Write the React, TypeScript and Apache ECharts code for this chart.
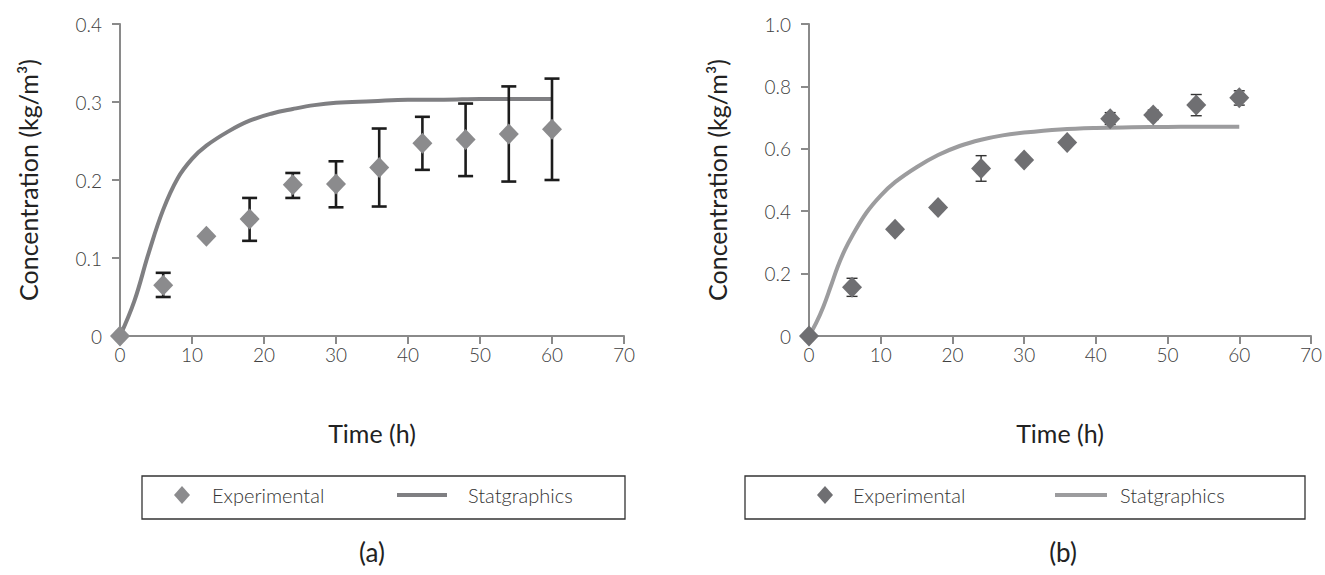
import React, { useEffect, useRef } from "react";
import * as echarts from "echarts";

const times = [0, 6, 12, 18, 24, 30, 36, 42, 48, 54, 60];

const expA = [0, 0.065, 0.128, 0.15, 0.194, 0.195, 0.216, 0.247, 0.252, 0.259, 0.265];
const errLowA = [null, 0.05, null, 0.122, 0.177, 0.165, 0.166, 0.213, 0.205, 0.198, 0.2];
const errHighA = [null, 0.081, null, 0.177, 0.209, 0.224, 0.266, 0.281, 0.298, 0.32, 0.33];

const expB = [0, 0.156, 0.342, 0.412, 0.537, 0.564, 0.62, 0.696, 0.708, 0.74, 0.764];
const errLowB = [null, 0.127, null, null, 0.496, null, null, 0.678, 0.694, 0.706, 0.74];
const errHighB = [null, 0.185, null, null, 0.578, null, null, 0.716, 0.724, 0.774, 0.786];

const modelTimesA = [0, 2, 4, 6, 8, 10, 12, 15, 18, 21, 24, 27, 30, 35, 40, 45, 50, 55, 60];
const modelA = [0, 0.045, 0.107, 0.162, 0.202, 0.227, 0.244, 0.262, 0.276, 0.285, 0.291, 0.296, 0.299, 0.301, 0.303, 0.303, 0.304, 0.304, 0.304];

const modelTimesB = [0, 1, 2, 3, 4, 5, 6, 8, 10, 12, 15, 18, 21, 24, 27, 30, 35, 40, 45, 50, 55, 60];
const modelB = [0, 0.042, 0.094, 0.157, 0.222, 0.276, 0.32, 0.395, 0.45, 0.493, 0.541, 0.58, 0.609, 0.629, 0.643, 0.652, 0.662, 0.667, 0.669, 0.67, 0.671, 0.671];

const FONT = "Lato";

function pairs(xs: number[], ys: number[]) {
  return xs.map((x, i) => [x, ys[i]]);
}
function errData(lo: (number | null)[], hi: (number | null)[]) {
  const out: number[][] = [];
  times.forEach((t, i) => {
    if (lo[i] != null && hi[i] != null) out.push([t, lo[i] as number, hi[i] as number]);
  });
  return out;
}

function errRender(color: string, lw: number, capW: number) {
  return (params: any, api: any) => {
    const x = api.value(0);
    const pLo = api.coord([x, api.value(1)]);
    const pHi = api.coord([x, api.value(2)]);
    const w = capW / 2;
    const style = { stroke: color, lineWidth: lw };
    return {
      type: "group",
      children: [
        { type: "line", shape: { x1: pLo[0], y1: pLo[1], x2: pHi[0], y2: pHi[1] }, style },
        { type: "line", shape: { x1: pLo[0] - w, y1: pLo[1], x2: pLo[0] + w, y2: pLo[1] }, style },
        { type: "line", shape: { x1: pHi[0] - w, y1: pHi[1], x2: pHi[0] + w, y2: pHi[1] }, style },
      ],
    };
  };
}

const axisColor = "#8a8a8a";
const nameStyle = { fontFamily: FONT, fontSize: 25, fontWeight: 400, color: "#222" };
const tickStyle = { fontFamily: FONT, fontWeight: 300, fontSize: 19, color: "#404040" };

function xAxisCfg(gridIndex: number) {
  return {
    type: "value",
    gridIndex,
    min: 0,
    max: 70,
    interval: 10,
    name: "Time (h)",
    nameLocation: "middle",
    nameGap: 84,
    nameTextStyle: nameStyle,
    axisLine: { show: true, lineStyle: { color: axisColor, width: 2 } },
    axisTick: { show: true, length: 8, lineStyle: { color: axisColor, width: 2 } },
    axisLabel: { ...tickStyle, margin: 9 },
    splitLine: { show: false },
  };
}

function yAxisCfg(gridIndex: number, max: number, interval: number) {
  return {
    type: "value",
    gridIndex,
    min: 0,
    max,
    interval,
    name: "Concentration (kg/m³)",
    nameLocation: "middle",
    nameGap: 80,
    nameTextStyle: nameStyle,
    axisLine: { show: true, lineStyle: { color: axisColor, width: 2 } },
    axisTick: { show: true, length: 8, lineStyle: { color: axisColor, width: 2 } },
    axisLabel: {
      ...tickStyle,
      margin: 18,
      formatter: (v: number) => (v === 0 ? "0" : v.toFixed(1)),
    },
    splitLine: { show: false },
  };
}

const legendText = { fontFamily: FONT, fontWeight: 300, fontSize: 20, color: "#333" };

export default function App() {
  const ref = useRef<HTMLDivElement>(null);
  useEffect(() => {
    if (!ref.current) return;
    const chart = echarts.init(ref.current, null, { renderer: "svg" });
    const colA = "#8b8b8d";
    const colB = "#6f6f72";
    const lineA = "#7f7f82";
    const lineB = "#9c9c9e";
    const panelTitle = { fontFamily: FONT, fontSize: 26, fontWeight: 400, color: "#222" };
    chart.setOption({
      animation: false,
      backgroundColor: "#fff",
      grid: [
        { left: 120, top: 24, width: 504, height: 312 },
        { left: 809, top: 24, width: 508, height: 312 },
      ],
      xAxis: [xAxisCfg(0), xAxisCfg(1)],
      yAxis: [yAxisCfg(0, 0.4, 0.1), yAxisCfg(1, 1.0, 0.2)],
      title: [
        { text: "(a)", left: 372, top: 539, textAlign: "center", padding: 0, textStyle: panelTitle },
        { text: "(b)", left: 1063, top: 539, textAlign: "center", padding: 0, textStyle: panelTitle },
      ],
      graphic: [
        { type: "rect", shape: { x: 142, y: 476, width: 483, height: 43 }, style: { fill: "#fff", stroke: "#333", lineWidth: 1.3 }, z: -1 },
        { type: "rect", shape: { x: 745, y: 476, width: 560, height: 43 }, style: { fill: "#fff", stroke: "#333", lineWidth: 1.3 }, z: -1 },
      ],
      legend: [
        {
          left: 169, top: 480, selectedMode: false, icon: "diamond", itemWidth: 16, itemHeight: 18,
          data: [{ name: "Experimental", itemStyle: { color: colA } }],
          textStyle: { ...legendText, padding: [0, 0, 0, 17] },
        },
        {
          left: 392, top: 480, selectedMode: false, icon: "rect", itemWidth: 50, itemHeight: 4,
          data: [{ name: "Statgraphics", itemStyle: { color: lineA } }],
          textStyle: { ...legendText, padding: [0, 0, 0, 16] },
        },
        {
          left: 812, top: 480, selectedMode: false, icon: "diamond", itemWidth: 16, itemHeight: 18,
          data: [{ name: "Experimental", itemStyle: { color: colB } }],
          textStyle: { ...legendText, padding: [0, 0, 0, 15] },
        },
        {
          left: 1050, top: 480, selectedMode: false, icon: "rect", itemWidth: 52, itemHeight: 4,
          data: [{ name: "Statgraphics", itemStyle: { color: lineB } }],
          textStyle: { ...legendText, padding: [0, 0, 0, 8] },
        },
      ],
      series: [
        {
          name: "Statgraphics", type: "line", xAxisIndex: 0, yAxisIndex: 0, smooth: 0.4, showSymbol: false,
          data: pairs(modelTimesA, modelA), lineStyle: { color: lineA, width: 4 }, itemStyle: { color: lineA }, z: 1,
        },
        {
          name: "ErrA", type: "custom", xAxisIndex: 0, yAxisIndex: 0, renderItem: errRender("#1c1c1c", 2.6, 15),
          data: errData(errLowA, errHighA), encode: { x: 0, y: [1, 2] }, z: 2,
        },
        {
          name: "Experimental", type: "scatter", xAxisIndex: 0, yAxisIndex: 0, symbol: "diamond", symbolSize: [20, 21],
          data: pairs(times, expA), itemStyle: { color: colA, opacity: 1 }, z: 3,
        },
        {
          name: "Statgraphics", type: "line", xAxisIndex: 1, yAxisIndex: 1, smooth: 0.4, showSymbol: false,
          data: pairs(modelTimesB, modelB), lineStyle: { color: lineB, width: 4 }, itemStyle: { color: lineB }, z: 1,
        },
        {
          name: "ErrB", type: "custom", xAxisIndex: 1, yAxisIndex: 1, renderItem: errRender("#333", 1.4, 11),
          data: errData(errLowB, errHighB), encode: { x: 0, y: [1, 2] }, z: 2,
        },
        {
          name: "Experimental", type: "scatter", xAxisIndex: 1, yAxisIndex: 1, symbol: "diamond", symbolSize: [20, 21],
          data: pairs(times, expB), itemStyle: { color: colB, opacity: 1 }, z: 3,
        },
      ],
    });
    return () => chart.dispose();
  }, []);
  return <div ref={ref} style={{ position: "fixed", left: 0, top: 0, width: 1325, height: 575 }} />;
}
